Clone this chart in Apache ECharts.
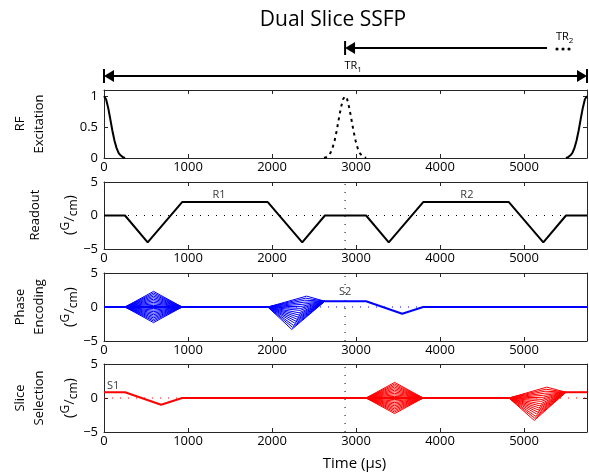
<!DOCTYPE html>
<html><head><meta charset="utf-8">
<script src="https://cdn.jsdelivr.net/npm/echarts@6/dist/echarts.min.js"></script>
<style>html,body{margin:0;padding:0;background:#fff}#c{width:589px;height:473px}</style>
</head><body><div id="c"></div>
<script>
// ---------- data ----------
const X_MAX = 5750;
const xTickLabels = [0, 1000, 2000, 3000, 4000, 5000];
const rfTickLabels = [0, 0.5, 1];
const gradTickLabels = [-5, 0, 5];
const secondSliceTime = 2870;   // centre of second-slice RF pulse (dotted marker)

// RF excitation pulses
const rfPulseA = [[0,1],[25,0.95],[50,0.81],[75,0.63],[100,0.44],[125,0.28],[150,0.16],[175,0.08],[200,0.04],[225,0.015],[250,0]];
const rfPulseB = [[2620,0],[2645,0.015],[2670,0.04],[2695,0.08],[2720,0.16],[2745,0.28],[2770,0.44],[2795,0.63],[2820,0.81],[2845,0.95],[2870,1],[2895,0.95],[2920,0.81],[2945,0.63],[2970,0.44],[2995,0.28],[3020,0.16],[3045,0.08],[3070,0.04],[3095,0.015],[3120,0]];
const rfPulseC = [[5500,0],[5525,0.015],[5550,0.04],[5575,0.08],[5600,0.16],[5625,0.28],[5650,0.44],[5675,0.63],[5700,0.81],[5725,0.95],[5750,1]];

// Readout gradient
const readout = [[0,0],[250,0],[520,-4],[930,2],[1950,2],[2360,-4],[2630,0],[3120,0],[3390,-4],[3800,2],[4820,2],[5230,-4],[5500,0],[5750,0]];

// Phase encoding gradient
const phaseMainA = [[0,0],[1950,0]];
const phaseMainB = [[2630,0.85],[3120,0.85],[3550,-1],[3800,0],[5750,0]];
const phaseFan1Times = [250, 590, 930];
const phaseFan1Peaks = [2.3,2.07,1.84,1.61,1.38,1.15,0.92,0.69,0.46,0.23,0,-0.23,-0.46,-0.69,-0.92,-1.15,-1.38,-1.61,-1.84,-2.07,-2.3];
const phaseFan2Ends = [[1950,0],[2630,0.85]];
const phaseFan2PeakTimes = [2412,2401,2390,2379,2368,2357,2346,2335,2323,2312,2301,2290,2279,2268,2256,2246,2235];
const phaseFan2Peaks = [1.6,1.3,1.0,0.7,0.4,0.1,-0.2,-0.5,-0.85,-1.15,-1.45,-1.75,-2.05,-2.35,-2.7,-3.0,-3.3];

// Slice selection gradient
const sliceMainA = [[0,0.85],[250,0.85],[680,-1],[930,0],[4820,0]];
const sliceMainB = [[5500,0.85],[5750,0.85]];
const sliceFan1Times = [3120, 3460, 3800];
const sliceFan1Peaks = [2.3,2.07,1.84,1.61,1.38,1.15,0.92,0.69,0.46,0.23,0,-0.23,-0.46,-0.69,-0.92,-1.15,-1.38,-1.61,-1.84,-2.07,-2.3];
const sliceFan2Ends = [[4820,0],[5500,0.85]];
const sliceFan2PeakTimes = [5270,5261,5252,5242,5233,5224,5215,5205,5196,5187,5177,5168,5159,5150,5140,5131,5122];
const sliceFan2Peaks = [1.6,1.3,1.0,0.7,0.4,0.1,-0.2,-0.5,-0.85,-1.15,-1.45,-1.75,-2.05,-2.35,-2.7,-3.0,-3.3];

// TR arrows (time extents)
const trArrows = [
  {name: 'TR1', from: 0, to: 5750},
  {name: 'TR2', from: 2870, to: 5274}
];

// gradient labels
const readoutLabels = [{name:'R1', value:[1370, 2]}, {name:'R2', value:[4320, 2]}];
const phaseLabels = [{name:'S2', value:[2870, 0.85]}];
const sliceLabels = [{name:'S1', value:[110, 0.85]}];

// ---------- layout ----------
const FONT = '"Open Sans", "DejaVu Sans", sans-serif';
const AX = '#262626';
const L = 104, W = 483;
const panels = [
  {top: 90,  height: 68, min: 0,  max: 1.1, interval: 0.5, ticks: rfTickLabels},
  {top: 182, height: 67, min: -5, max: 5,   interval: 5,   ticks: gradTickLabels},
  {top: 273, height: 68, min: -5, max: 5,   interval: 5,   ticks: gradTickLabels},
  {top: 364, height: 68, min: -5, max: 5,   interval: 5,   ticks: gradTickLabels}
];

const grids = [{left: L, width: W, top: 30, height: 60}];
const xAxes = [{gridIndex: 0, type: 'value', min: 0, max: X_MAX, show: false}];
const yAxes = [{gridIndex: 0, type: 'value', min: 0, max: 1, show: false}];

function fmtNum(v) { return v < 0 ? '\u2212' + Math.abs(v) : String(v); }

panels.forEach((p, k) => {
  const g = k + 1;
  grids.push({left: L, width: W, top: p.top, height: p.height});
  const tickCommon = {inside: true, length: 4, lineStyle: {color: AX, width: 1}};
  const lineCommon = {show: true, onZero: false, lineStyle: {color: AX, width: 1}};
  xAxes.push({
    gridIndex: g, type: 'value', min: 0, max: X_MAX, interval: 1000, position: 'bottom',
    axisLine: lineCommon, axisTick: tickCommon, splitLine: {show: false},
    axisLabel: {margin: 3, color: '#000', fontSize: 13, fontFamily: FONT, showMaxLabel: false,
      formatter: v => xTickLabels.includes(v) ? String(v) : ''},
    name: k === 3 ? 'Time (\u03bcs)' : '', nameLocation: 'middle', nameGap: 24,
    nameTextStyle: {color: '#000', fontSize: 15, fontFamily: FONT, padding: [0, 0, 0, 18]}
  });
  xAxes.push({
    gridIndex: g, type: 'value', min: 0, max: X_MAX, interval: 1000, position: 'top',
    axisLine: lineCommon, axisTick: tickCommon, axisLabel: {show: false}, splitLine: {show: false}
  });
  yAxes.push({
    gridIndex: g, type: 'value', min: p.min, max: p.max, interval: p.interval, position: 'left',
    axisLine: lineCommon, axisTick: tickCommon, splitLine: {show: false},
    axisLabel: {margin: 6, color: '#000', fontSize: 13, fontFamily: FONT,
      formatter: v => p.ticks.some(t => Math.abs(t - v) < 1e-9) ? fmtNum(v) : ''}
  });
  yAxes.push({
    gridIndex: g, type: 'value', min: p.min, max: p.max, interval: p.interval, position: 'right',
    axisLine: lineCommon, axisTick: tickCommon, axisLabel: {show: false}, splitLine: {show: false}
  });
});

const series = [];
function ax(k) { return {xAxisIndex: 1 + 2 * k, yAxisIndex: 1 + 2 * k}; }
function line(k, data, color, width, type, z) {
  series.push(Object.assign({
    type: 'line', data: data, symbol: 'none', silent: true, animation: false, z: z || 3,
    lineStyle: {color: color, width: width, type: type || 'solid'}
  }, ax(k)));
}
function labels(k, data, dist) {
  series.push(Object.assign({
    type: 'scatter', data: data, symbolSize: 0, silent: true, animation: false, z: 6,
    label: {show: true, position: 'top', distance: dist, formatter: '{b}', color: '#000',
      fontSize: 11, fontFamily: FONT}
  }, ax(k)));
}
const DOT = [1, 7];
const BLUE = '#0000ff', RED = '#ff0000';

// RF
line(0, rfPulseA, '#000', 2);
line(0, rfPulseB, '#000', 2, [3, 4]);
line(0, rfPulseC, '#000', 2);

// Readout
line(1, [[0,0],[X_MAX,0]], '#000', 1, DOT, 2);
line(1, [[secondSliceTime,-5],[secondSliceTime,5]], '#000', 1, DOT, 2);
line(1, readout, '#000', 2);
labels(1, readoutLabels, 2);

// Phase
line(2, [[0,0],[X_MAX,0]], BLUE, 1, DOT, 2);
line(2, [[secondSliceTime,-5],[secondSliceTime,5]], '#000', 1, DOT, 2);
phaseFan1Peaks.forEach(pk => line(2, [[phaseFan1Times[0],0],[phaseFan1Times[1],pk],[phaseFan1Times[2],0]], BLUE, 1));
phaseFan2Peaks.forEach((pk, i) => line(2, [phaseFan2Ends[0],[phaseFan2PeakTimes[i],pk],phaseFan2Ends[1]], BLUE, 1));
line(2, phaseMainA, BLUE, 2);
line(2, phaseMainB, BLUE, 2);
labels(2, phaseLabels, 4);

// Slice
line(3, [[0,0],[X_MAX,0]], RED, 1, DOT, 2);
line(3, [[secondSliceTime,-5],[secondSliceTime,5]], '#000', 1, DOT, 2);
sliceFan1Peaks.forEach(pk => line(3, [[sliceFan1Times[0],0],[sliceFan1Times[1],pk],[sliceFan1Times[2],0]], RED, 1));
sliceFan2Peaks.forEach((pk, i) => line(3, [sliceFan2Ends[0],[sliceFan2PeakTimes[i],pk],sliceFan2Ends[1]], RED, 1));
line(3, sliceMainA, RED, 2);
line(3, sliceMainB, RED, 2);
labels(3, sliceLabels, 1);

// TR arrows (custom series on hidden top grid)
const arrowRows = [76, 48];  // pixel rows of TR1 / TR2 arrows
const trRich = {t: {fontSize: 11, fontFamily: FONT, color: '#000', lineHeight: 16, verticalAlign: 'middle'},
                s: {fontSize: 8, fontFamily: FONT, color: '#000', lineHeight: 16, verticalAlign: 'bottom', padding: [5, 0, 0, 0]}};
series.push({
  type: 'custom', xAxisIndex: 0, yAxisIndex: 0, silent: true, animation: false, z: 5,
  data: trArrows.map(a => [a.from, a.to]),
  renderItem: function (params, api) {
    const i = params.dataIndex;
    const x0 = api.coord([api.value(0), 0])[0];
    const x1 = api.coord([api.value(1), 0])[0];
    const y = arrowRows[i];
    const st = {stroke: '#000', lineWidth: 2};
    const ch = [];
    const hl = 10, hw = 6, bh = 7;
    ch.push({type: 'line', shape: {x1: x0 + 2, y1: y, x2: (i === 0 ? x1 - 2 : x1), y2: y}, style: st});
    ch.push({type: 'polygon', shape: {points: [[x0, y], [x0 + hl, y - hw], [x0 + hl, y + hw]]}, style: {fill: '#000'}});
    ch.push({type: 'line', shape: {x1: x0, y1: y - bh, x2: x0, y2: y + bh}, style: st});
    if (i === 0) {
      ch.push({type: 'polygon', shape: {points: [[x1, y], [x1 - hl, y - hw], [x1 - hl, y + hw]]}, style: {fill: '#000'}});
      ch.push({type: 'line', shape: {x1: x1, y1: y - bh, x2: x1, y2: y + bh}, style: st});
      ch.push({type: 'text', style: {x: (x0 + x1) / 2 - 1, y: y - 10, text: '{t|TR}{s|1}', rich: trRich, align: 'left', verticalAlign: 'middle'}});
    } else {
      [10, 16, 22].forEach(dx => ch.push({type: 'circle', shape: {cx: x1 + dx, cy: y + 1, r: 1.6}, style: {fill: '#000'}}));
      ch.push({type: 'text', style: {x: x1 + 9, y: y - 11, text: '{t|TR}{s|2}', rich: trRich, align: 'left', verticalAlign: 'middle'}});
    }
    return {type: 'group', children: ch};
  }
});

// side labels
const unitRich = {
  p: {fontSize: 15, fontFamily: FONT, color: '#000'},
  a: {fontSize: 12, fontFamily: FONT, color: '#000', verticalAlign: 'top', lineHeight: 20},
  b: {fontSize: 12, fontFamily: FONT, color: '#000', verticalAlign: 'bottom', lineHeight: 20}
};
function sideText(x, y, text, rich) {
  const s = {text: text, fontSize: 13, fontFamily: FONT, fill: '#000', align: 'center', verticalAlign: 'middle', lineHeight: 19};
  if (rich) s.rich = rich;
  return {type: 'text', x: x, y: y, rotation: Math.PI / 2, style: s, silent: true};
}
const graphics = [
  sideText(30, 124, 'RF\nExcitation'),
  sideText(35, 215, 'Readout'),
  sideText(70, 215, '{p|(}{a|G}{p|/}{b|cm}{p|)}', unitRich),
  sideText(30, 307, 'Phase\nEncoding'),
  sideText(70, 307, '{p|(}{a|G}{p|/}{b|cm}{p|)}', unitRich),
  sideText(30, 398, 'Slice\nSelection'),
  sideText(70, 398, '{p|(}{a|G}{p|/}{b|cm}{p|)}', unitRich)
];

const chart = echarts.init(document.getElementById('c'), null, {renderer: 'canvas'});
chart.setOption({
  backgroundColor: '#fff',
  animation: false,
  title: {text: 'Dual Slice SSFP', left: 328, top: 5, textAlign: 'center',
    textStyle: {fontSize: 21, fontWeight: 'normal', color: '#000', fontFamily: FONT}},
  grid: grids, xAxis: xAxes, yAxis: yAxes, series: series, graphic: graphics
});
</script></body></html>
